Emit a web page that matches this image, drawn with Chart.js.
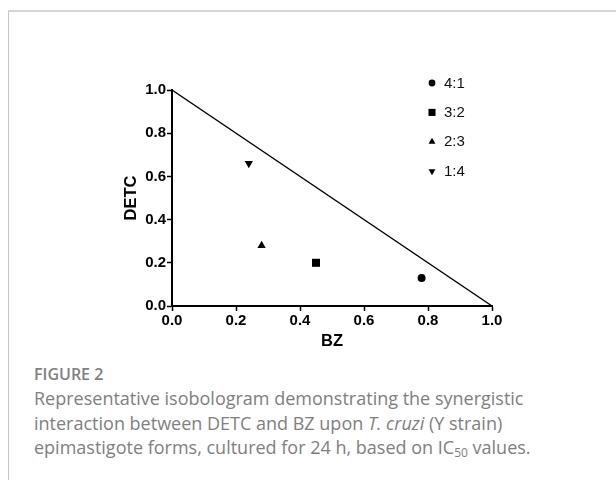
<!DOCTYPE html>
<html>
<head>
<meta charset="utf-8">
<script src="https://cdn.jsdelivr.net/npm/chart.js@4/dist/chart.umd.min.js"></script>
<style>
    body { margin: 0; background: #fff; width: 616px; height: 480px; overflow: hidden; position: relative; }
    #frame { position: absolute; left: 8px; top: 10px; width: 700px; height: 600px; border-top: 2px solid #d6d6d6; border-left: 1px solid #c8c8c8; }
    #chart-box { position: absolute; left: 0; top: 0; }
    #fig-label { position: absolute; left: 34px; top: 364px; font: 600 16px "Open Sans", sans-serif; line-height: 20px; color: #808080; }
    #fig-caption { position: absolute; left: 34px; top: 386px; font: 18px "Open Sans", sans-serif; line-height: 24.5px; color: #808080; white-space: nowrap; }
    sub { font-size: 12px; line-height: 0; vertical-align: -3px; }
</style>
</head>
<body>
<div id="frame"></div>
<div id="chart-box"><canvas id="iso-chart" width="616" height="351"></canvas></div>
<div id="fig-label">FIGURE 2</div>
<div id="fig-caption">Representative isobologram demonstrating the synergistic<br>interaction between DETC and BZ upon <i>T. cruzi</i> (Y strain)<br>epimastigote forms, cultured for 24 h, based on IC<sub>50</sub> values.</div>
<script>
// data
const ratioLabels = ["4:1", "3:2", "2:3", "1:4"]
const bzValues = [0.78, 0.45, 0.28, 0.24]
const detcValues = [0.13, 0.20, 0.28, 0.66]

// line of additivity
const additivityBZ = [0, 1]
const additivityDETC = [1, 0]

// axis ticks
const tickValues = [0, 0.2, 0.4, 0.6, 0.8, 1.0]

// marker looks for each ratio
const markerStyles = ["circle", "rect", "triangle", "triangle"]
const markerRotations = [0, 0, 0, 180]
const markerRadius = [4, 5.7, 4.8, 4.8]
const legendRadius = [3.4, 5, 4, 4]

const chartFont = "Arial, 'Liberation Sans', sans-serif"

// legend drawn inside the plot, top right
const insideLegend = {
    id: "insideLegend",
    afterDatasetsDraw(chart) {
        const { ctx, chartArea } = chart
        const x0 = chartArea.right - 60
        const y0 = chartArea.top - 7
        let row = 0
        chart.data.datasets.forEach(ds => {
            if (!ds.inLegend) return
            const y = y0 + row * 29.4
            ctx.save()
            ctx.fillStyle = "#000"
            ctx.strokeStyle = "#000"
            Chart.helpers.drawPoint(ctx, {
                pointStyle: ds.pointStyle,
                radius: ds.legendRadius,
                rotation: ds.pointRotation,
                borderWidth: 0
            }, x0, y)
            ctx.font = "15px " + chartFont
            ctx.textBaseline = "middle"
            ctx.fillStyle = "#111"
            ctx.fillText(ds.label, x0 + 12, y + 0.5)
            ctx.restore()
            row++
        })
    }
}

let datasets = []

// additivity line
datasets.push({
    label: "additivity",
    data: additivityBZ.map((x, i) => ({ x: x, y: additivityDETC[i] })),
    showLine: true,
    borderColor: "#000",
    borderWidth: 1.5,
    pointRadius: 0,
    clip: false,
    inLegend: false
})

// combination ratios
ratioLabels.forEach((label, i) => {
    datasets.push({
        label: label,
        data: [{ x: bzValues[i], y: detcValues[i] }],
        pointStyle: markerStyles[i],
        pointRotation: markerRotations[i],
        pointRadius: markerRadius[i],
        legendRadius: legendRadius[i],
        backgroundColor: "#000",
        borderColor: "#000",
        borderWidth: 0,
        inLegend: true
    })
})

const axisOptions = (title, fitFn) => ({
    type: "linear",
    min: 0,
    max: 1,
    afterBuildTicks: scale => { scale.ticks = tickValues.map(v => ({ value: v })) },
    afterFit: fitFn,
    ticks: {
        color: "#000",
        padding: 1,
        font: { family: chartFont, size: 15, weight: "bold" },
        callback: v => Number(v).toFixed(1)
    },
    grid: {
        display: true,
        drawOnChartArea: false,
        drawTicks: true,
        tickLength: 5,
        tickColor: "#000",
        tickWidth: 1.5
    },
    border: { display: true, color: "#000", width: 2 },
    title: {
        display: true,
        text: title,
        color: "#000",
        padding: 0,
        font: { family: chartFont, size: 16.5, weight: "bold" }
    }
})

new Chart(document.getElementById("iso-chart"), {
    type: "scatter",
    data: { datasets: datasets },
    options: {
        responsive: false,
        animation: false,
        devicePixelRatio: 1,
        layout: { padding: { left: 122, right: 124, top: 90, bottom: 0 } },
        plugins: {
            legend: { display: false },
            tooltip: { enabled: false }
        },
        scales: {
            x: axisOptions("BZ", scale => { scale.height = 45 }),
            y: axisOptions("DETC", scale => { scale.width = 50 })
        }
    },
    plugins: [insideLegend]
})
</script>
</body>
</html>
